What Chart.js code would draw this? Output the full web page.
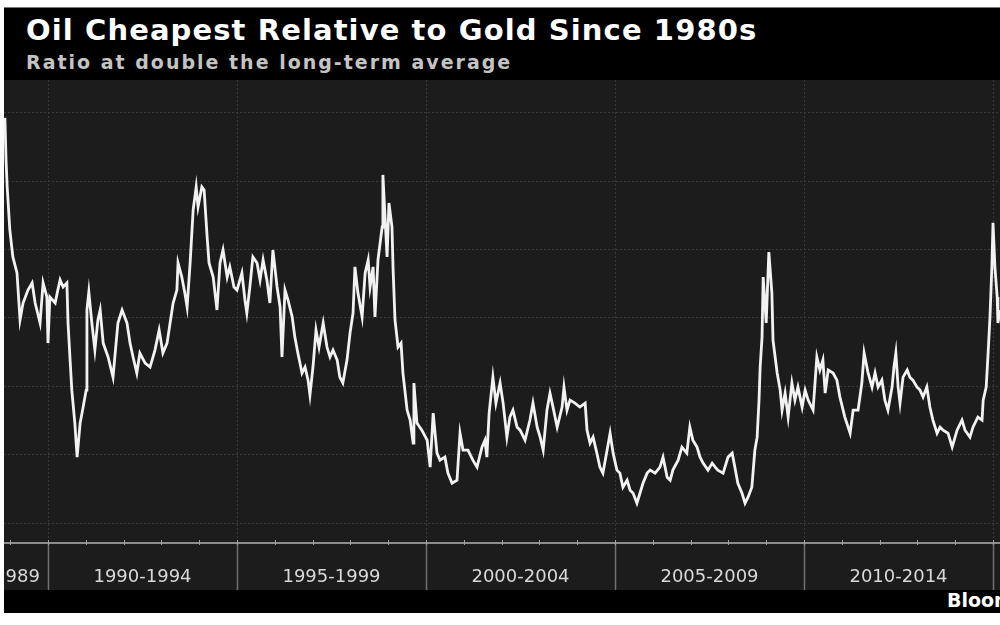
<!DOCTYPE html>
<html><head><meta charset="utf-8">
<script src="https://cdn.jsdelivr.net/npm/chart.js@4.4.0/dist/chart.umd.min.js"></script>
<style>
html,body{margin:0;padding:0;background:#fff;width:1000px;height:625px;overflow:hidden;}
#head{position:absolute;left:4px;top:7px;width:996px;height:73px;background:#000;border-top:1px solid #777;box-sizing:border-box}
#title{position:absolute;left:22px;top:5px;font:bold 29px 'DejaVu Sans';letter-spacing:1.1px;color:#fff;white-space:nowrap;line-height:normal}
#sub{position:absolute;left:22px;top:43px;font:bold 19px 'DejaVu Sans';letter-spacing:2px;color:#c4c4c4;white-space:nowrap;line-height:normal}
#plotbg{position:absolute;left:4px;top:80px;width:996px;height:510px;background:#1c1c1c}
#foot{position:absolute;left:4px;top:590px;width:996px;height:23px;background:#000;overflow:hidden}
#src{position:absolute;left:943px;top:-1px;font:bold 19px 'DejaVu Sans';color:#fff;white-space:nowrap;line-height:normal}
#wrap{position:absolute;left:4px;top:80px;width:996px;height:510px}
</style></head>
<body>
<div id="head"><div id="title">Oil Cheapest Relative to Gold Since 1980s</div><div id="sub">Ratio at double the long-term average</div></div>
<div id="plotbg"></div>
<div id="foot"><div id="src">Bloomberg</div></div>
<div id="wrap"><canvas id="c" width="996" height="510"></canvas></div>
<script>
// ---- data (gold-to-oil ratio) ----
const years = [1988.86,1988.89,1988.92,1988.99,1989.07,1989.18,1989.26,1989.34,1989.47,1989.58,1989.66,1989.79,1989.87,1989.97,1990.00,1990.05,1990.19,1990.26,1990.32,1990.40,1990.50,1990.53,1990.58,1990.63,1990.71,1990.77,1990.85,1990.93,1991.01,1991.03,1991.08,1991.16,1991.24,1991.32,1991.38,1991.46,1991.59,1991.72,1991.85,1991.96,1992.09,1992.17,1992.25,1992.35,1992.43,1992.57,1992.70,1992.83,1992.94,1993.04,1993.15,1993.23,1993.31,1993.41,1993.44,1993.54,1993.62,1993.68,1993.76,1993.84,1993.92,1993.97,1994.07,1994.13,1994.21,1994.26,1994.37,1994.47,1994.55,1994.63,1994.74,1994.81,1994.92,1995.00,1995.13,1995.21,1995.26,1995.34,1995.42,1995.53,1995.61,1995.69,1995.79,1995.87,1995.95,1996.06,1996.14,1996.19,1996.27,1996.35,1996.46,1996.53,1996.61,1996.72,1996.80,1996.88,1996.93,1997.01,1997.09,1997.17,1997.28,1997.38,1997.46,1997.54,1997.65,1997.72,1997.80,1997.91,1997.99,1998.07,1998.12,1998.20,1998.31,1998.39,1998.47,1998.52,1998.60,1998.65,1998.73,1998.84,1998.86,1998.92,1998.97,1999.02,1999.10,1999.13,1999.18,1999.26,1999.34,1999.39,1999.50,1999.58,1999.66,1999.68,1999.76,1999.89,2000.03,2000.11,2000.19,2000.29,2000.37,2000.50,2000.58,2000.69,2000.82,2000.90,2000.98,2001.11,2001.24,2001.35,2001.48,2001.56,2001.61,2001.67,2001.77,2001.85,2001.96,2002.04,2002.14,2002.22,2002.30,2002.41,2002.49,2002.62,2002.75,2002.83,2002.94,2003.02,2003.10,2003.20,2003.28,2003.36,2003.47,2003.60,2003.65,2003.73,2003.81,2003.94,2004.07,2004.21,2004.26,2004.34,2004.42,2004.52,2004.60,2004.68,2004.79,2004.87,2004.95,2005.05,2005.13,2005.21,2005.32,2005.40,2005.48,2005.58,2005.66,2005.74,2005.85,2005.93,2006.06,2006.19,2006.27,2006.38,2006.46,2006.53,2006.67,2006.77,2006.90,2006.98,2007.06,2007.17,2007.25,2007.33,2007.46,2007.57,2007.65,2007.72,2007.86,2007.99,2008.10,2008.17,2008.25,2008.36,2008.44,2008.52,2008.62,2008.70,2008.76,2008.81,2008.84,2008.89,2008.92,2009.00,2009.07,2009.15,2009.18,2009.29,2009.37,2009.42,2009.50,2009.58,2009.68,2009.76,2009.84,2009.95,2010.03,2010.11,2010.24,2010.34,2010.42,2010.50,2010.56,2010.64,2010.77,2010.87,2010.95,2011.08,2011.22,2011.30,2011.43,2011.53,2011.59,2011.69,2011.80,2011.88,2011.96,2012.06,2012.14,2012.22,2012.33,2012.38,2012.43,2012.49,2012.54,2012.62,2012.73,2012.80,2012.88,2012.99,2013.07,2013.15,2013.25,2013.33,2013.41,2013.52,2013.60,2013.68,2013.81,2013.92,2014.05,2014.18,2014.26,2014.39,2014.47,2014.60,2014.71,2014.74,2014.82,2014.87,2014.92,2014.97,2015.00,2015.05,2015.11,2015.13,2015.19];
const ratio = [34.63,31.56,29.58,26.44,24.46,23.29,19.85,21.09,22.04,22.56,21.09,19.63,22.56,21.53,18.16,21.53,21.09,22.04,22.78,22.26,22.56,19.63,17.14,14.72,12.31,9.82,12.31,13.48,14.72,20.58,21.90,19.63,17.65,19.85,20.58,18.16,17.14,15.67,19.63,20.58,19.63,18.16,17.14,15.97,17.43,16.70,16.41,17.65,19.11,17.43,18.16,19.63,21.09,22.04,24.02,22.99,21.82,20.80,24.02,27.90,29.58,28.12,29.58,29.36,25.92,24.02,22.99,20.58,24.02,24.97,22.99,23.73,22.26,22.04,23.29,21.31,20.36,22.26,24.46,24.02,22.78,24.24,22.78,21.09,24.97,22.26,20.80,17.14,22.04,21.31,20.07,18.60,17.43,15.97,16.41,15.45,14.36,16.41,19.11,17.87,19.63,17.87,17.14,17.65,16.92,15.67,15.24,16.92,18.89,20.36,23.73,21.82,20.07,23.29,24.24,22.26,23.73,20.07,24.24,26.65,30.46,27.17,24.46,28.41,26.65,23.51,19.85,17.87,18.16,15.97,13.26,12.53,10.84,15.24,12.31,11.79,11.06,9.09,13.04,10.11,9.60,9.82,8.65,7.91,8.13,11.57,10.33,10.33,9.60,9.09,10.55,11.06,9.82,13.04,15.67,13.77,15.24,13.77,11.28,12.75,13.26,12.01,11.79,11.06,12.53,13.77,12.01,11.28,10.33,13.26,14.50,13.48,12.01,13.48,14.94,13.26,13.99,13.77,13.48,13.77,11.79,10.84,11.28,10.11,9.09,8.65,10.33,11.57,10.11,8.87,8.65,7.62,8.13,7.40,7.18,6.45,7.18,7.91,8.65,8.87,8.65,9.09,9.82,8.35,8.13,8.87,9.60,10.55,10.11,12.01,11.06,10.55,9.82,9.38,8.87,9.38,9.09,8.87,8.65,9.82,10.11,9.09,7.91,7.18,6.45,6.89,7.62,10.33,11.28,13.99,16.41,18.60,22.99,19.63,24.82,21.82,18.38,15.97,14.72,13.26,14.50,12.75,15.24,13.99,14.94,13.48,14.72,13.99,13.26,17.14,16.19,16.92,14.50,16.19,15.97,15.45,14.21,12.75,11.57,13.26,13.26,15.24,17.43,16.04,14.94,15.97,14.94,15.45,13.99,13.26,14.94,16.41,17.43,14.94,13.77,15.67,16.19,15.67,15.45,14.94,14.72,14.21,14.94,13.48,12.53,11.57,12.01,11.79,11.57,10.55,11.79,12.53,11.79,11.28,12.01,12.75,12.53,13.99,14.94,17.43,20.07,23.73,26.95,23.73,21.53,19.63,20.58];
const periodLabels = ['1989','1990-1994','1995-1999','2000-2004','2005-2009','2010-2014'];
const periodCenters = [1989.18,1992.5,1997.5,2002.5,2007.5,2012.5];
const separatorYears = [1990,1995,2000,2005,2010,2015];
const yearTicks = [1989,1990,1991,1992,1993,1994,1995,1996,1997,1998,1999,2000,2001,2002,2003,2004,2005,2006,2007,2008,2009,2010,2011,2012,2013,2014,2015];
const gridValues = [5,10,15,20,25,30,35];
const xRange = [1988.836, 2015.185];
const yRange = [3.54, 37.4];

const decor = {
  id: 'decor',
  beforeDatasetsDraw(chart) {
    const {ctx, chartArea: a, scales: {x}} = chart;
    ctx.save();
    ctx.strokeStyle = '#3a3a3a';
    ctx.lineWidth = 1;
    ctx.setLineDash([2, 2]);
    separatorYears.forEach(v => {
      const px = Math.round(x.getPixelForValue(v)) + 0.5;
      ctx.beginPath(); ctx.moveTo(px, a.top); ctx.lineTo(px, a.bottom); ctx.stroke();
    });
    ctx.restore();
  },
  afterDraw(chart) {
    const {ctx, chartArea: a, scales: {x}} = chart;
    ctx.save();
    ctx.strokeStyle = '#707070';
    ctx.lineWidth = 1.5;
    separatorYears.forEach(v => {
      const px = Math.round(x.getPixelForValue(v)) + 0.5;
      ctx.beginPath(); ctx.moveTo(px, a.bottom); ctx.lineTo(px, chart.height); ctx.stroke();
    });
    ctx.strokeStyle = '#8c8c8c';
    ctx.lineWidth = 2;
    ctx.beginPath(); ctx.moveTo(a.left, a.bottom); ctx.lineTo(a.right, a.bottom); ctx.stroke();
    ctx.lineWidth = 1;
    ctx.strokeStyle = '#a0a0a0';
    yearTicks.forEach(v => {
      const px = Math.round(x.getPixelForValue(v)) + 0.5;
      ctx.beginPath(); ctx.moveTo(px, a.bottom - 3); ctx.lineTo(px, a.bottom + 2); ctx.stroke();
    });
    ctx.restore();
  }
};

new Chart(document.getElementById('c'), {
  type: 'line',
  data: {
    datasets: [{
      data: years.map((t, i) => ({x: t, y: ratio[i]})),
      borderColor: '#f2f2f2',
      borderWidth: 2.8,
      pointRadius: 0,
      tension: 0,
      fill: false
    }]
  },
  options: {
    responsive: false,
    animation: false,
    layout: {padding: 0, autoPadding: false},
    plugins: {legend: {display: false}, tooltip: {enabled: false}, title: {display: false}},
    scales: {
      x: {
        type: 'linear', min: xRange[0], max: xRange[1],
        afterBuildTicks: s => { s.ticks = periodCenters.map(v => ({value: v})); },
        ticks: {autoSkip: false, maxRotation: 0, color: '#d8d8d8', padding: 24,
                font: {family: 'DejaVu Sans', size: 18},
                callback: (v, i) => periodLabels[i]},
        grid: {display: false, drawTicks: false},
        border: {display: false},
        afterFit: s => { s.height = 47; s.paddingLeft = 0; s.paddingRight = 0; }
      },
      y: {
        min: yRange[0], max: yRange[1],
        afterBuildTicks: s => { s.ticks = gridValues.map(v => ({value: v})); },
        ticks: {display: false},
        grid: {color: '#3a3a3a', lineWidth: 1, drawTicks: false},
        border: {display: false, dash: [2, 2]},
        afterFit: s => { s.width = 0; s.paddingTop = 0; s.paddingBottom = 0; }
      }
    }
  },
  plugins: [decor]
});
</script>
</body></html>
